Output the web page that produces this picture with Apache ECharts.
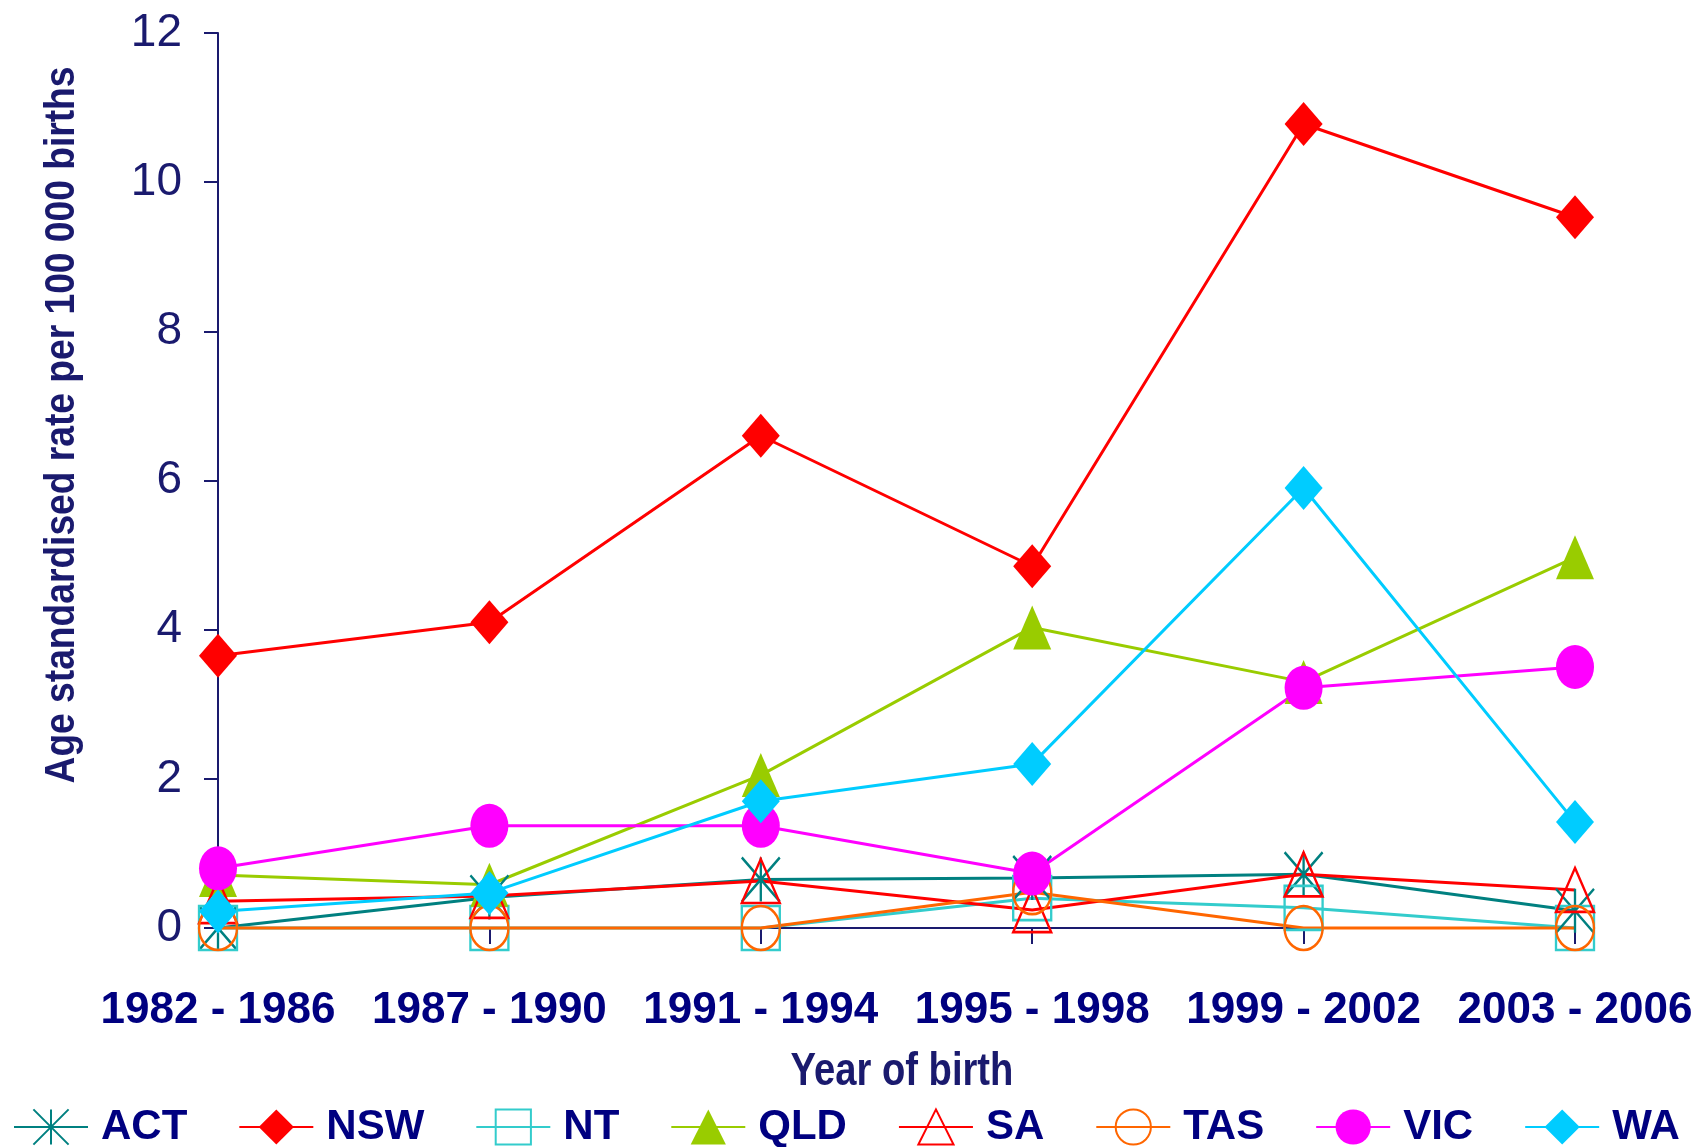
<!DOCTYPE html>
<html>
<head>
<meta charset="utf-8">
<script src="https://cdn.jsdelivr.net/npm/echarts@6/dist/echarts.min.js"></script>
<style>
html,body{margin:0;padding:0;background:#fff;}
#chart{width:1702px;height:1147px;}
</style>
</head>
<body>
<div id="chart"></div>
<script>
const categories = ['1982 - 1986','1987 - 1990','1991 - 1994','1995 - 1998','1999 - 2002','2003 - 2006'];
const ACT = [0, 0.41, 0.65, 0.67, 0.72, 0.23];
const NSW = [3.65, 4.1, 6.6, 4.85, 10.78, 9.53];
const NT  = [0, 0, 0, 0.4, 0.27, 0];
const QLD = [0.71, 0.58, 2.05, 4.03, 3.3, 4.97];
const SA  = [0.36, 0.43, 0.63, 0.24, 0.72, 0.51];
const TAS = [0, 0, 0, 0.48, 0, 0];
const VIC = [0.8, 1.37, 1.37, 0.73, 3.22, 3.5];
const WA  = [0.22, 0.47, 1.7, 2.2, 5.9, 1.42];
const yTicks = [0, 2, 4, 6, 8, 10, 12];

const FONT = '"Liberation Sans", Arial, sans-serif';
const NAVY = '#000080';
const AXIS = '#1a1a6e';
const SZ = [38, 44];
const LW = 3;
const STAR = 'path://M0,0L10,12M10,0L0,12M5,0L5,12';

function filled(name, data, color, symbol) {
  return {
    name, type: 'line', data, symbol, symbolSize: SZ, clip: false,
    lineStyle: {color, width: LW},
    itemStyle: {color, borderWidth: 0},
    emphasis: {disabled: true}
  };
}
function hollow(name, data, color, symbol) {
  return {
    name, type: 'line', data, symbol, symbolSize: SZ, clip: false,
    lineStyle: {color, width: LW},
    itemStyle: {color: 'rgba(0,0,0,0)', borderColor: color, borderWidth: 2.5},
    emphasis: {disabled: true}
  };
}

const chart = echarts.init(document.getElementById('chart'), null, {renderer: 'canvas'});
chart.setOption({
  animation: false,
  backgroundColor: '#fff',
  grid: {left: 218, right: 127, top: 33, bottom: 219, containLabel: false, outerBoundsMode: 'none'},
  xAxis: {
    type: 'category', data: categories, boundaryGap: false,
    axisLine: {lineStyle: {color: AXIS, width: 2}},
    axisTick: {show: true, length: 16, lineStyle: {color: AXIS, width: 2}},
    axisLabel: {color: NAVY, fontFamily: FONT, fontWeight: 'bold', fontSize: 44, margin: 61, interval: 0, hideOverlap: false}
  },
  yAxis: {
    type: 'value', min: 0, max: 12, interval: 2,
    axisLine: {show: true, lineStyle: {color: AXIS, width: 2}},
    axisTick: {show: true, length: 14, lineStyle: {color: AXIS, width: 2}},
    splitLine: {show: false},
    axisLabel: {color: AXIS, fontFamily: FONT, fontSize: 46, margin: 36,
      formatter: v => yTicks.includes(v) ? String(v) : ''}
  },
  legend: {
    left: 13, top: 1106, itemWidth: 74, itemHeight: 44, itemGap: 51, padding: 0,
    textStyle: {color: NAVY, fontFamily: FONT, fontWeight: 'bold', fontSize: 42, padding: [0, 0, 0, 8]},
    data: ['ACT','NSW','NT','QLD','SA','TAS','VIC','WA']
  },
  graphic: [{
    type: 'text', x: 62, y: 425, rotation: Math.PI / 2, scaleX: 0.885,
    style: {text: 'Age standardised rate per 100 000 births', fill: AXIS,
      font: 'bold 42px ' + FONT, textAlign: 'center', textVerticalAlign: 'middle'}
  }, {
    type: 'text', x: 902, y: 1072, scaleX: 0.83,
    style: {text: 'Year of birth', fill: AXIS,
      font: 'bold 46px ' + FONT, textAlign: 'center', textVerticalAlign: 'middle'}
  }],
  series: [
    hollow('ACT', ACT, '#008080', STAR),
    filled('NSW', NSW, '#ff0000', 'diamond'),
    hollow('NT', NT, '#33cccc', 'rect'),
    filled('QLD', QLD, '#99cc00', 'triangle'),
    hollow('SA', SA, '#ff0000', 'triangle'),
    hollow('TAS', TAS, '#ff6600', 'circle'),
    filled('VIC', VIC, '#ff00ff', 'circle'),
    filled('WA', WA, '#00ccff', 'diamond')
  ]
});
</script>
</body>
</html>
